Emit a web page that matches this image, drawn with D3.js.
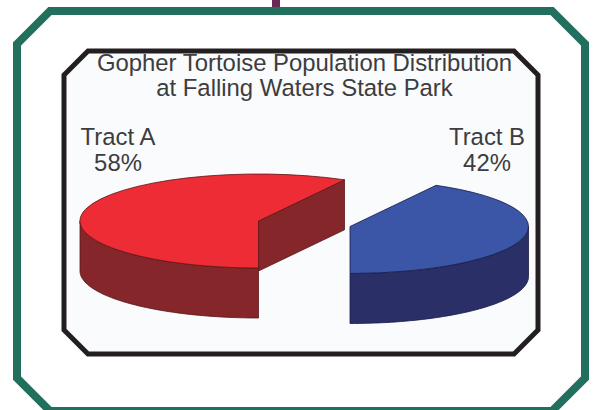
<!DOCTYPE html>
<html>
<head>
<meta charset="utf-8">
<script src="https://cdn.jsdelivr.net/npm/d3@7"></script>
<style>
  html, body { margin: 0; padding: 0; background: #fff; }
  svg { display: block; }
  text { font-family: "Liberation Sans", Arial, sans-serif; fill: #3d3d3f; text-anchor: middle; }
</style>
</head>
<body>
<svg id="chart" width="594" height="410"></svg>
<script>
let titleLines = ['Gopher Tortoise Population Distribution', 'at Falling Waters State Park']
let tracts = ['Tract A', 'Tract B']
let shares = [58, 42]
let topColors = ['#ee2c36', '#3c56a7']
let sideColors = ['#84262a', '#2a2f68']
let edgeColors = ['#5a1518', '#161a45']

const RX = 178.5
const RY = 47
const DEPTH = 50
const FONT = 23.9
// each slice is pulled away from the other one, so it has its own centre
let centers = [[258.5, 221], [350, 226.5]]
let labelSpots = [[118, 145], [487, 145]]
// angle windows where the rim faces the viewer
let frontWindows = [[Math.PI / 2, 3 * Math.PI / 2], [5 * Math.PI / 2, 7 * Math.PI / 2]]

let svg = d3.select('#chart')

// plain octagon with cut corners, listed clockwise from the top left
function frame (x0, y0, x1, y1, cut) {
  return d3.line()([
    [x0, y0 + cut], [x0 + cut, y0], [x1 - cut, y0], [x1, y0 + cut],
    [x1, y1 - cut], [x1 - cut, y1], [x0 + cut, y1], [x0, y1 - cut]
  ]) + 'Z'
}

svg.append('rect').attr('x', 272).attr('y', 0).attr('width', 8).attr('height', 9).attr('fill', '#6a2a57')
svg.append('path').attr('d', frame(17, 11, 585, 411, 33))
  .attr('fill', '#fff').attr('stroke', '#236f5d').attr('stroke-width', 8)
svg.append('path').attr('d', frame(64, 51, 538, 354, 24))
  .attr('fill', '#fafbfd').attr('stroke', '#231f20').attr('stroke-width', 5)

svg.selectAll('text.title').data(titleLines).join('text')
  .attr('class', 'title')
  .attr('x', 304.5)
  .attr('y', (d, i) => 70.5 + i * 25.5)
  .attr('font-size', FONT)
  .text(d => d)

// pie goes clockwise from straight down, Tract A first
let slices = d3.pie().sort(null).startAngle(Math.PI).endAngle(3 * Math.PI)(shares)
let arc = d3.arc().innerRadius(0).outerRadius(1)
let line = d3.line()

function rim (center, angle, drop) {
  return [center[0] + RX * Math.sin(angle), center[1] - RY * Math.cos(angle) + drop]
}

slices.forEach((slice, i) => {
  let c = centers[i]
  let g = svg.append('g').attr('stroke', edgeColors[i]).attr('stroke-width', 0.8).attr('stroke-linejoin', 'round')

  // cut wall, only seen when the slice ends on the right hand side
  if (Math.sin(slice.endAngle) > 1e-6) {
    let end = rim(c, slice.endAngle, 0)
    g.append('path')
      .attr('d', line([c, end, [end[0], end[1] + DEPTH], [c[0], c[1] + DEPTH]]) + 'Z')
      .attr('fill', sideColors[i])
  }

  // front side of the disc
  frontWindows.forEach(w => {
    let from = Math.max(slice.startAngle, w[0])
    let to = Math.min(slice.endAngle, w[1])
    if (from >= to) return
    let steps = d3.range(0, 61).map(k => from + (to - from) * k / 60)
    let upper = steps.map(a => rim(c, a, 0))
    let lower = steps.map(a => rim(c, a, DEPTH)).reverse()
    g.append('path')
      .attr('d', line(upper.concat(lower)) + 'Z')
      .attr('fill', sideColors[i])
  })

  // top face is the unit arc squashed into the ellipse
  g.append('path')
    .attr('d', arc(slice))
    .attr('transform', `translate(${c[0]},${c[1]}) scale(${RX},${RY})`)
    .attr('vector-effect', 'non-scaling-stroke')
    .attr('fill', topColors[i])
})

let labels = svg.selectAll('g.label').data(tracts).join('g')
  .attr('class', 'label')
  .attr('transform', (d, i) => `translate(${labelSpots[i][0]},${labelSpots[i][1]})`)
labels.append('text').attr('font-size', FONT).text(d => d)
labels.append('text').attr('y', 26).attr('font-size', FONT).text((d, i) => shares[i] + '%')
</script>
</body>
</html>
